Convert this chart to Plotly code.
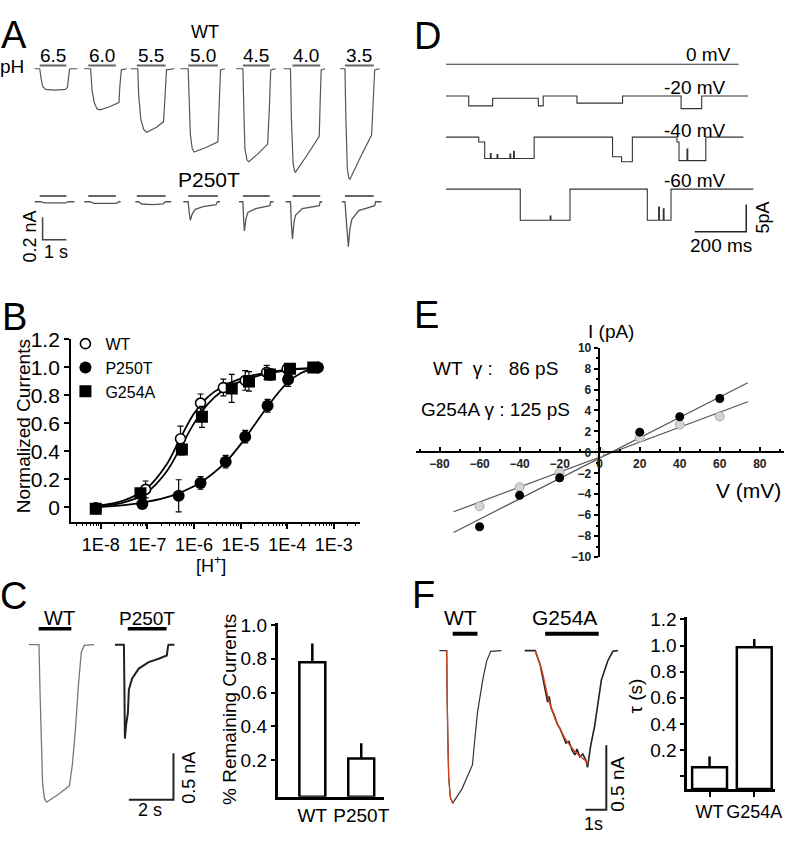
import plotly.graph_objects as go

W, H = 796, 845
FONT = 'Liberation Sans, Arial, sans-serif'

# ---------------- A: whole-cell currents (s, nA), every sweep starts at t = 0
ph_labels = ['6.5', '6.0', '5.5', '5.0', '4.5', '4.0', '3.5']
wt_t = [
    [0, 0.21, 0.27, 0.33, 0.46, 0.83, 1.29, 1.375, 1.46, 1.5, 1.79],
    [0, 0.27, 0.33, 0.42, 0.54, 0.67, 1.04, 1.46, 1.5, 1.56, 1.79],
    [0, 0.29, 0.33, 0.42, 0.54, 0.67, 1.08, 1.375, 1.44, 1.5, 1.83],
    [0, 0.33, 0.375, 0.42, 0.5, 0.58, 1.08, 1.58, 1.625, 1.69, 1.875],
    [0, 0.29, 0.33, 0.375, 0.46, 0.54, 0.92, 1.33, 1.4, 1.46, 1.67],
    [0, 0.29, 0.33, 0.40, 0.46, 0.5, 1.0, 1.5, 1.54, 1.58, 1.75],
    [0, 0.21, 0.25, 0.31, 0.375, 0.42, 0.875, 1.33, 1.40, 1.46, 1.67],
]
wt_i = [
    [0, 0, -0.087, -0.157, -0.183, -0.19, -0.183, -0.165, -0.01, 0, 0],
    [0, 0, -0.19, -0.30, -0.357, -0.365, -0.34, -0.30, -0.15, -0.01, 0],
    [0, 0, -0.235, -0.45, -0.54, -0.565, -0.52, -0.47, -0.235, -0.01, 0],
    [0, 0, -0.28, -0.58, -0.71, -0.74, -0.70, -0.65, -0.365, -0.01, 0],
    [0, 0, -0.365, -0.71, -0.81, -0.826, -0.757, -0.67, -0.365, -0.01, 0],
    [0, 0, -0.45, -0.84, -0.91, -0.92, -0.765, -0.60, -0.28, -0.01, 0],
    [0, 0, -0.45, -0.887, -0.974, -0.983, -0.78, -0.59, -0.28, -0.01, 0],
]
p250t_t = [
    [0, 0.25, 0.4, 1.3, 1.42, 1.67],
    [0, 0.25, 0.4, 1.35, 1.45, 1.53],
    [0.19, 0.33, 0.45, 0.9, 1.35, 1.45, 1.7],
    [0.125, 0.33, 0.375, 0.42, 0.5, 0.625, 0.96, 1.5, 1.56, 1.67],
    [0.125, 0.29, 0.32, 0.354, 0.42, 0.5, 0.83, 1.42, 1.46, 1.58],
    [0.083, 0.29, 0.33, 0.375, 0.44, 0.5, 0.79, 1.5, 1.54, 1.625],
    [0.083, 0.21, 0.28, 0.354, 0.42, 0.5, 0.79, 1.46, 1.5, 1.75],
]
p250t_i = [
    [0, 0, -0.01, -0.01, 0, 0],
    [0, 0, -0.015, -0.015, 0, 0],
    [0, 0, -0.02, -0.026, -0.02, 0, 0],
    [0, 0, -0.1, -0.165, -0.11, -0.067, -0.043, -0.026, 0, 0],
    [0, 0, -0.15, -0.26, -0.15, -0.096, -0.061, -0.035, 0, 0],
    [0, 0, -0.2, -0.33, -0.18, -0.12, -0.061, -0.035, 0, 0],
    [0, 0, -0.2, -0.4, -0.24, -0.157, -0.078, -0.035, 0, 0],
]
ph_on = [0.21, 0.17, 0.25, 0.33, 0.29, 0.375, 0.21]
ph_off = [1.33, 1.33, 1.46, 1.58, 1.42, 1.54, 1.42]

# ---------------- D: single channels (ms, pA), step traces
d_labels = ['0 mV', '-20 mV', '-40 mV', '-60 mV']
d_t = [
    [0, 1135],
    [0, 88, 181, 358, 377, 508, 685, 912, 992, 1173],
    [0, 127, 150, 172, 175, 198, 201, 248, 251, 262, 265, 342, 646, 681, 723,
     896, 904, 935, 938, 1008, 1154],
    [0, 288, 404, 407, 481, 781, 825, 828, 843, 846, 873, 1192],
]
d_i = [
    [0, 0],
    [0, -1.8, -0.4, -1.8, 0, -1.3, 0, -2.3, 0, 0],
    [0, -0.9, -3.9, -3.0, -3.9, -3.2, -3.9, -3.1, -3.9, -2.6, -3.9, 0, -3.6, -4.5, 0,
     -0.9, -4.3, -2.2, -4.3, 0, 0],
    [0, -5.7, -4.9, -5.7, 0, -5.7, -3.3, -5.7, -3.6, -5.7, 0, 0],
]

# ---------------- B: dose response, log10 [H+]
b_wt_logh = [-8.11, -7.04, -6.29, -5.86, -5.37, -4.9, -4.44, -4.0, -3.44]
b_wt = [-0.004, 0.128, 0.49, 0.745, 0.856, 0.907, 0.965, 0.99, 1.0]
b_wt_err = [0, 0.06, 0.09, 0.065, 0.06, 0.07, 0.05, 0.02, 0.01]
b_p_logh = [-8.11, -7.11, -6.33, -5.86, -5.32, -4.9, -4.42, -3.98, -3.34]
b_p = [-0.01, 0.024, 0.082, 0.174, 0.326, 0.505, 0.726, 0.914, 1.0]
b_p_err = [0, 0.01, 0.115, 0.045, 0.045, 0.045, 0.045, 0.05, 0.01]
b_g_logh = [-8.11, -7.15, -6.26, -5.83, -5.19, -4.82, -4.37, -3.94, -3.44]
b_g = [-0.01, 0.1, 0.414, 0.647, 0.85, 0.90, 0.95, 0.99, 1.0]
b_g_err = [0, 0.03, 0.04, 0.075, 0.1, 0.07, 0.04, 0.02, 0.01]
fit_logh = [-8.1, -7.5, -7.0, -6.6, -6.3, -6.0, -5.7, -5.4, -5.0, -4.5, -4.0, -3.4]
fit_wt = [0.01, 0.05, 0.14, 0.30, 0.49, 0.67, 0.79, 0.86, 0.92, 0.96, 0.985, 0.995]
fit_g = [0.005, 0.035, 0.11, 0.25, 0.42, 0.6, 0.74, 0.83, 0.90, 0.95, 0.98, 0.995]
fit_p_logh = [-8.1, -7.5, -7.0, -6.5, -6.0, -5.6, -5.3, -5.0, -4.7, -4.4, -4.0, -3.7, -3.4]
fit_p = [0.0, 0.015, 0.04, 0.08, 0.15, 0.24, 0.33, 0.45, 0.59, 0.73, 0.89, 0.96, 0.995]
b_ticks = [1e-8, 1e-7, 1e-6, 1e-5, 1e-4, 1e-3]
b_ticktext = ['1E-8', '1E-7', '1E-6', '1E-5', '1E-4', '1E-3']

# ---------------- E: I-V
e_v = [-60, -40, -20, 20, 40, 60]
e_g254a = [-7.1, -4.1, -2.43, 1.93, 3.4, 5.14]
e_g254a_err = [0.25, 0.2, 0.3, 0.15, 0.15, 0.3]
e_wt = [-5.14, -3.33, -1.9, 1.4, 2.65, 3.43]
e_wt_err = [0.2, 0.2, 0.2, 0.15, 0.15, 0.2]
e_fit_v = [-73, 74]
e_fit_g254a = [-7.64, 6.64]
e_fit_wt = [-5.67, 4.83]

# ---------------- C: desensitisation traces (s, nA) and bars
c_wt_t = [0, 0.458, 0.511, 0.564, 0.622, 0.711, 0.8, 1.289, 1.822, 1.956, 2.089,
          2.222, 2.356, 2.489, 2.933]
c_wt_i = [0, 0, -0.553, -1.183, -1.497, -1.655, -1.69, -1.613, -1.515, -1.287, -0.92,
          -0.448, -0.081, -0.007, 0]
c_p_t = [0, 0.4, 0.422, 0.444, 0.5, 0.58, 0.622, 0.769, 1.067, 1.511, 1.956, 2.324,
         2.378, 2.4, 2.667]
c_p_i = [0, 0, -0.448, -1.007, -0.86, -0.728, -0.483, -0.361, -0.256, -0.186, -0.151,
         -0.115, -0.018, 0, 0]
c_on = [0.444, 0.573]
c_off = [1.911, 2.313]
c_cats = ['WT', 'P250T']
c_vals = [0.78, 0.21]
c_err = [0.11, 0.09]

# ---------------- F: activation traces (s, nA), mono-exponential fits, tau bars
f_wt_t = [0, 0.352, 0.367, 0.4, 0.448, 0.524, 0.638, 1.081, 1.59, 1.652, 1.829, 2.095,
          2.271, 2.462, 2.986]
f_wt_i = [0, 0, -0.329, -0.708, -0.983, -1.134, -1.182, -1.073, -0.884, -0.77, -0.48,
          -0.215, -0.081, -0.005, 0]
f_wt_fit_t = [0.352, 0.367, 0.4, 0.448, 0.524, 0.638]
f_wt_fit_i = [0, -0.329, -0.708, -0.983, -1.134, -1.182]
f_g_t = [0, 0.51, 0.748, 0.938, 1.033, 1.105, 1.176, 1.271, 1.414, 1.557, 1.7, 1.843,
         1.986, 2.129, 2.271, 2.414, 2.51, 2.652, 2.795, 2.938, 3.019, 3.176, 3.367,
         3.686, 4.0, 4.238, 4.476]
f_g_i = [0, 0, -0.111, -0.263, -0.339, -0.399, -0.354, -0.444, -0.497, -0.565, -0.604,
         -0.657, -0.717, -0.703, -0.77, -0.808, -0.762, -0.823, -0.801, -0.847, -0.905,
         -0.733, -0.58, -0.227, -0.076, -0.005, 0]
f_g_fit_t = [0.51, 0.829, 1.143, 1.462, 1.938, 2.414, 2.971, 3.019]
f_g_fit_i = [0, -0.152, -0.379, -0.53, -0.682, -0.783, -0.859, -0.884]
f_on = [0.638, 0.985]
f_off = [1.829, 3.557]
f_cats = ['WT', 'G254A']
f_vals = [0.067, 0.987]
f_err = [0.083, 0.063]

# ---------------- layout helpers
def xd(a, b):
    return [a / W, b / W]


def yd(top, bottom):
    return [1 - bottom / H, 1 - top / H]


def note(text, x, y, size, angle=0, xanchor='center', xref='paper', **kw):
    return dict(text=text, x=x if xref != 'paper' else x / W, y=1 - y / H,
                xref=xref, yref='paper', showarrow=False, textangle=angle,
                xanchor=xanchor, yanchor='middle',
                font=dict(size=size, color='black', family=FONT, **kw))


fig = go.Figure()


def line(x, y, ax, color, width, shape='linear'):
    fig.add_trace(go.Scatter(x=x, y=y, mode='lines', xaxis='x' + ax, yaxis='y' + ax,
                             line=dict(color=color, width=width, shape=shape),
                             showlegend=False, hoverinfo='skip'))


# A
a_start = [1.46, 3.54, 5.5, 7.58, 9.92, 11.92, 14.29]
a_rows = [0, -1.183]
a_bar_lift = [0.03, 0.052]
for k in range(7):
    s = a_start[k]
    line([v + s for v in wt_t[k]], wt_i[k], '', '#555', 1.2)
    line([v + s for v in p250t_t[k]], [v + a_rows[1] for v in p250t_i[k]], '', '#555', 1.3)
    for r in range(2):
        y0 = a_rows[r] + a_bar_lift[r]
        line([s + ph_on[k], s + ph_off[k]], [y0, y0], '', '#666', 2)
a_corner = (1.79, -1.522)
line([a_corner[0], a_corner[0], a_corner[0] + 1.0],
     [a_corner[1] + 0.2, a_corner[1], a_corner[1]], '', '#444', 1.5)

# D
d_rows = [0, -5.8, -13.3, -22.8]
for k in range(4):
    line(d_t[k], [v + d_rows[k] for v in d_i[k]], '2', '#333', 1.1, 'hv')
d_corner = (1165, -30.6)
line([d_corner[0] - 200, d_corner[0], d_corner[0]],
     [d_corner[1], d_corner[1], d_corner[1] + 5], '2', '#222', 1.5)

# B
for lx, ly in ((fit_logh, fit_wt), (fit_logh, fit_g), (fit_p_logh, fit_p)):
    fig.add_trace(go.Scatter(x=[10 ** v for v in lx], y=ly, mode='lines', xaxis='x3',
                             yaxis='y3', line=dict(color='black', width=1.8, shape='spline'),
                             showlegend=False, hoverinfo='skip'))
series_b = [
    ('WT', b_wt_logh, b_wt, b_wt_err, dict(symbol='circle', size=10, color='white',
                                          line=dict(color='black', width=1.6))),
    ('P250T', b_p_logh, b_p, b_p_err, dict(symbol='circle', size=12, color='black')),
    ('G254A', b_g_logh, b_g, b_g_err, dict(symbol='square', size=12, color='black')),
]
for name, lx, ly, err, mk in series_b:
    fig.add_trace(go.Scatter(x=[10 ** v for v in lx], y=ly, mode='markers', name=name,
                             xaxis='x3', yaxis='y3', marker=mk,
                             error_y=dict(type='data', array=err, color='black',
                                          thickness=1.2, width=3)))

# E
line(e_fit_v, e_fit_g254a, '4', '#555', 1.2)
line(e_fit_v, e_fit_wt, '4', '#555', 1.2)
fig.add_trace(go.Scatter(x=e_v, y=e_wt, mode='markers', xaxis='x4', yaxis='y4',
                         marker=dict(size=9, color='#d4d4d4', line=dict(color='#a8a8a8', width=1)),
                         error_y=dict(type='data', array=e_wt_err, color='#aaa', thickness=1, width=3),
                         showlegend=False))
fig.add_trace(go.Scatter(x=e_v, y=e_g254a, mode='markers', xaxis='x4', yaxis='y4',
                         marker=dict(size=9, color='black'),
                         error_y=dict(type='data', array=e_g254a_err, color='#444', thickness=1, width=3),
                         showlegend=False))
fig.add_trace(go.Scatter(x=[0], y=[0], mode='markers', xaxis='x4', yaxis='y4',
                         marker=dict(size=9, color='white', line=dict(color='#bbb', width=1)),
                         showlegend=False))

# C traces
c_start = [0.4, 4.267]
line([v + c_start[0] for v in c_wt_t], c_wt_i, '5', '#777', 1.3)
line([v + c_start[1] for v in c_p_t], c_p_i, '5', '#222', 2.0)
for k in range(2):
    line([c_start[k] + c_on[k], c_start[k] + c_off[k]], [0.171, 0.171], '5', 'black', 3.5)
c_corner = (6.889, -1.665)
line([c_corner[0] - 2, c_corner[0], c_corner[0]],
     [c_corner[1], c_corner[1], c_corner[1] + 0.5], '5', '#222', 2)

# F traces
f_start = [0.633, 4.729]
line([v + f_start[0] for v in f_wt_t], f_wt_i, '7', '#333', 1.2)
line([v + f_start[0] for v in f_wt_fit_t], f_wt_fit_i, '7', '#d9431e', 1.3)
line([v + f_start[1] for v in f_g_t], f_g_i, '7', '#222', 1.6)
line([v + f_start[1] for v in f_g_fit_t], f_g_fit_i, '7', '#d9431e', 1.4)
for k in range(2):
    line([f_start[k] + f_on[k], f_start[k] + f_off[k]], [0.131, 0.131], '7', 'black', 4)
f_corner = (8.652, -1.233)
line([f_corner[0] - 1, f_corner[0], f_corner[0]],
     [f_corner[1], f_corner[1], f_corner[1] + 0.5], '7', '#222', 2)

# C and F bars, drawn up from the bottom of each value axis
c_base, f_base = -0.016, -0.1
fig.add_trace(go.Bar(x=[0, 1], y=[v - c_base for v in c_vals], base=c_base, width=0.53,
                     xaxis='x6', yaxis='y6', showlegend=False,
                     marker=dict(color='white', line=dict(color='black', width=2.5)),
                     error_y=dict(type='data', array=c_err, arrayminus=[0, 0],
                                  color='black', thickness=2.5, width=0)))
fig.add_trace(go.Bar(x=[0, 1], y=[v - f_base for v in f_vals], base=f_base, width=0.78,
                     xaxis='x8', yaxis='y8', showlegend=False,
                     marker=dict(color='white', line=dict(color='black', width=2.5)),
                     error_y=dict(type='data', array=f_err, arrayminus=[0, 0],
                                  color='black', thickness=2.5, width=0)))

blank = dict(visible=False, showgrid=False, zeroline=False)
axis = dict(showline=True, linecolor='black', showgrid=False, zeroline=False,
            tickcolor='black', tickfont=dict(family=FONT, color='black'))

fig.update_layout(
    width=W, height=H, margin=dict(l=0, r=0, t=0, b=0),
    paper_bgcolor='white', plot_bgcolor='rgba(0,0,0,0)',
    font=dict(family=FONT, color='black'),
    xaxis=dict(blank, domain=xd(0, 396), range=[0, 16.5], anchor='y'),
    yaxis=dict(blank, domain=yd(40, 250), range=[-1.669, 0.157], anchor='x'),
    xaxis2=dict(blank, domain=xd(400, 796), range=[-192.3, 1330.8], anchor='y2'),
    yaxis2=dict(blank, domain=yd(30, 260), range=[-36.875, 4.196], anchor='x2'),
    xaxis3=dict(axis, type='log', domain=xd(71.7, 363), range=[-8.64, -2.44], anchor='y3',
                linewidth=2, ticks='outside', ticklen=5, tickwidth=1.5,
                tickvals=b_ticks, ticktext=b_ticktext, tickfont_size=18,
                minor=dict(ticks='outside', ticklen=2.5, tickwidth=1, tickcolor='black',
                           tickvals=[m * 10 ** e for e in range(-9, -2) for m in range(2, 10)])),
    yaxis3=dict(axis, domain=yd(335, 521.7), range=[-0.105, 1.2], anchor='x3',
                linewidth=2, ticks='outside', ticklen=5, tickwidth=1.5,
                tickvals=[0, 0.2, 0.4, 0.6, 0.8, 1.0, 1.2],
                ticktext=['0', '0.2', '0.4', '0.6', '0.8', '1.0', '1.2'], tickfont_size=21),
    xaxis4=dict(axis, domain=xd(419.2, 790.8), range=[-92, 92], anchor='free',
                position=1 - 450.5 / H, linewidth=2, ticks='inside', ticklen=4, tickwidth=1.5,
                tickvals=[-80, -60, -40, -20, 0, 20, 40, 60, 80],
                tickfont=dict(size=12, weight='bold', family=FONT, color='#222'),
                minor=dict(ticks='inside', ticklen=2, dtick=10, tickcolor='black')),
    yaxis4=dict(axis, domain=yd(343.3, 557.7), range=[-10, 10], anchor='free',
                position=604 / W, linewidth=2, ticks='outside', ticklen=4, tickwidth=1.5,
                tickvals=[-10, -8, -6, -4, -2, 0, 2, 4, 6, 8, 10],
                tickfont=dict(size=12, weight='bold', family=FONT, color='#222'),
                minor=dict(ticks='outside', ticklen=2, dtick=1, tickcolor='black')),
    xaxis5=dict(blank, domain=xd(20, 200), range=[0, 8], anchor='y5'),
    yaxis5=dict(blank, domain=yd(600, 840), range=[-2.022, 0.496], anchor='x5'),
    xaxis6=dict(axis, domain=xd(280, 387), range=[-0.711, 1.457], anchor='y6',
                linewidth=2.5, ticks='', tickvals=[0, 1], ticktext=c_cats, tickfont_size=19,
                tickangle=0),
    yaxis6=dict(axis, domain=yd(625, 802.7), range=[c_base, 1.012], anchor='x6',
                linewidth=2.5, ticks='outside', ticklen=4, tickwidth=2,
                tickvals=[0.2, 0.4, 0.6, 0.8, 1.0], ticktext=['0.2', '0.4', '0.6', '0.8', '1.0'],
                tickfont_size=19),
    xaxis7=dict(blank, domain=xd(430, 640), range=[0, 10], anchor='y7'),
    yaxis7=dict(blank, domain=yd(600, 840), range=[-1.414, 0.404], anchor='x7'),
    xaxis8=dict(axis, domain=xd(693.3, 781.7), range=[-0.5, 1.46], anchor='y8',
                linewidth=2.5, ticks='outside', ticklen=5, tickwidth=2,
                tickvals=[0, 1], ticktext=f_cats, tickfont_size=18, tickangle=0),
    yaxis8=dict(axis, domain=yd(619.3, 795), range=[f_base, 1.216], anchor='x8',
                linewidth=2.5, ticks='outside', ticklen=4, tickwidth=2,
                tickvals=[0.2, 0.4, 0.6, 0.8, 1.0, 1.2],
                ticktext=['0.2', '0.4', '0.6', '0.8', '1.0', '1.2'], tickfont_size=19,
                minor=dict(ticks='outside', ticklen=4, tickwidth=2, tickcolor='black',
                           tickvals=[0])),
    legend=dict(x=66 / W, y=1 - 322 / H, xanchor='left', yanchor='top',
                font=dict(size=16, family=FONT), bgcolor='rgba(0,0,0,0)',
                itemwidth=30, tracegroupgap=0),
    showlegend=True,
)

ann = [
    note('A', 14, 24, 38), note('WT', 207, 20, 18), note('pH', 12, 56, 19),
    note('P250T', 211, 171, 21),
    note('0.2 nA', 30, 230, 18, angle=-90), note('1 s', 56, 246, 18),
    note('D', 431, 25, 38),
    note('5pA', 770, 210, 18, angle=-90), note('200 ms', 727, 239, 19),
    note('B', 15, 312, 38),
    note('Normalized Currents', 24, 424, 19, angle=-90),
    note('[H<sup>+</sup>]', 213, 565, 18),
    note('E', 430, 310, 38),
    note('I (pA)', 616, 327, 19), note('V (mV)', 755, 490, 21),
    note('WT  γ :   86 pS', 435, 365, 19, xanchor='left'),
    note('G254A γ : 125 pS', 423, 407, 19, xanchor='left'),
    note('C', 14, 597, 38), note('WT', 60, 620, 20), note('P250T', 148, 620, 19),
    note('0.5 nA', 191, 783, 18, angle=-90), note('2 s', 151, 816, 18),
    note('% Remaining Currents', 232, 713, 19, angle=-90),
    note('F', 427, 596, 38), note('WT', 465, 619, 21), note('G254A', 570, 619, 21),
    note('0.5 nA', 623, 790, 19, angle=-90), note('1s', 599, 831, 18),
    note('τ (s)', 641, 700, 19, angle=-90),
]
for k, lab in enumerate(ph_labels):
    ann.append(note(lab, a_start[k] + (ph_on[k] + ph_off[k]) / 2, 44.5, 19, xref='x'))
d_label_y = [43.5, 77.5, 121, 172]
for k, lab in enumerate(d_labels):
    ann.append(note(lab, 701 if k else 715, d_label_y[k], 19))
fig.update_layout(annotations=ann)

# the page's default body margin would push the figure off the 796x845 window
fig.write_html('out.html', config={'displayModeBar': False},
               post_script="document.body.style.margin = '0';")
